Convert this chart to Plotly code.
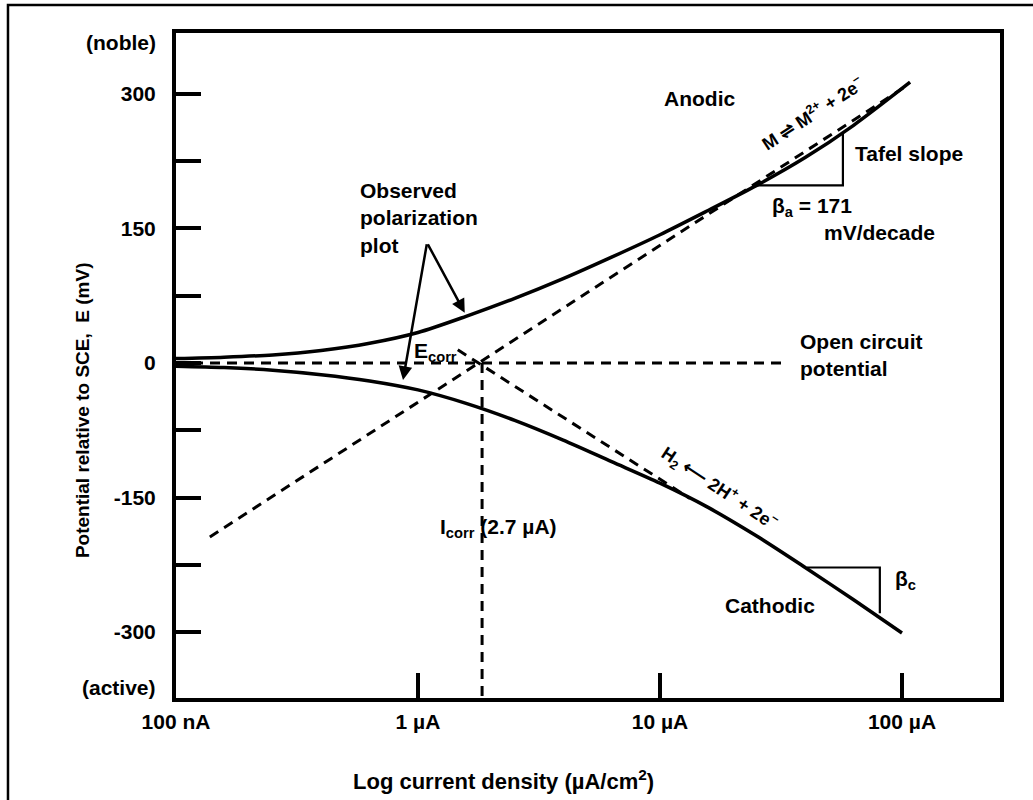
import numpy as np
import plotly.graph_objects as go

# ---------------- data (current density in µA/cm², potential in mV) ----------------
anodic_I = [0.1, 0.158, 0.251, 0.398, 0.631, 1, 1.58, 2.51, 3.98, 6.31, 10, 15.8, 25.1, 39.8, 63.1, 108]
anodic_E = [5, 6.5, 9, 14, 22, 34, 52, 72, 94, 118, 143, 170, 198, 229, 265, 313]

cathodic_I = [0.1, 0.158, 0.251, 0.398, 0.631, 1, 1.58, 2.51, 3.98, 6.31, 10, 15.8, 25.1, 39.8, 63.1, 100]
cathodic_E = [-3.5, -5, -8, -13, -20, -30, -45, -64, -86, -110, -134, -161, -193, -228, -264, -301]

anodic_tafel_I = [0.138, 103]
anodic_tafel_E = [-194, 308]

cathodic_tafel_I = [1.46, 13.3]
cathodic_tafel_E = [14.7, -151]

ocp_I = [0.1, 32.9]
ocp_E = [0, 0]

icorr_I = [1.84, 1.84]
icorr_E = [0, -373.5]

anodic_tri_I = [25.2, 57, 57]
anodic_tri_E = [198, 198, 257]

cathodic_tri_I = [40.5, 81, 81]
cathodic_tri_E = [-228, -228, -279]

x_tickvals = [0.1, 1, 10, 100]
x_ticktext = ["100 nA", "1 µA", "10 µA", "100 µA"]
y_tickvals = [-300, -225, -150, -75, 0, 75, 150, 225, 300]
y_ticktext = ["-300", "", "-150", "", "0", "", "150", "", "300"]

x_range_log = [-1, 2.405]
y_range = [-373.5, 367.9]

# ---------------- figure ----------------
BLACK = "#000000"
FONT = "Liberation Sans"
solid = dict(color=BLACK, width=3.5)
dashed = dict(color=BLACK, width=3, dash="10px,7px")
thin = dict(color=BLACK, width=2.2)


def f(size=21):
    return dict(family=FONT, size=size, color=BLACK, weight="bold")


fig = go.Figure()
fig.add_trace(go.Scatter(x=ocp_I, y=ocp_E, mode="lines", line=dashed, hoverinfo="skip"))
fig.add_trace(go.Scatter(x=icorr_I, y=icorr_E, mode="lines", line=dashed, hoverinfo="skip"))
fig.add_trace(go.Scatter(x=anodic_tafel_I, y=anodic_tafel_E, mode="lines", line=dashed, hoverinfo="skip"))
fig.add_trace(go.Scatter(x=cathodic_tafel_I, y=cathodic_tafel_E, mode="lines", line=dashed, hoverinfo="skip"))
fig.add_trace(go.Scatter(x=anodic_I, y=anodic_E, mode="lines", line=dict(shape="spline", smoothing=0.8, **solid)))
fig.add_trace(go.Scatter(x=cathodic_I, y=cathodic_E, mode="lines", line=dict(shape="spline", smoothing=0.8, **solid)))
fig.add_trace(go.Scatter(x=anodic_tri_I, y=anodic_tri_E, mode="lines", line=thin, hoverinfo="skip"))
fig.add_trace(go.Scatter(x=cathodic_tri_I, y=cathodic_tri_E, mode="lines", line=thin, hoverinfo="skip"))

L = np.log10  # annotations on a log axis are placed in log10 units


def label(text, I, E, size=21, xanchor="center", align="center", angle=0):
    fig.add_annotation(x=float(L(I)), y=E, xref="x", yref="y", text=text, showarrow=False,
                       xanchor=xanchor, yanchor="middle", align=align, textangle=angle,
                       font=f(size))


label("Anodic", 14.5, 295)
label("Cathodic", 28.5, -270)
label("Tafel slope", 62.8, 234, xanchor="left")
label("β<sub>a</sub> = 171", 42.5, 174)
label("mV/decade", 81.1, 146)
label("β<sub>c</sub>", 91.8, -242, xanchor="left")
label("Observed<br>polarization<br>plot", 0.565, 162, xanchor="left", align="left")
label("E<sub>corr</sub>", 0.944, 12, xanchor="left")
label("Open circuit<br>potential", 37.2, 9, xanchor="left", align="left")
label("I<sub>corr</sub> (2.7 µA)", 1.21, -184, xanchor="left")
label("M ⇌ M<sup>2+</sup> + 2e<sup>−</sup>", 42.5, 278, size=18, angle=-33)
label("H<sub>2</sub> ⟵ 2H<sup>+</sup> + 2e<sup>−</sup>", 17.6, -140, size=18, angle=33.5)

# arrows from "Observed polarization plot"
apex_I, apex_E = 1.09, 134
for head_I, head_E in [(0.867, -19), (1.56, 56)]:
    fig.add_annotation(x=float(L(head_I)), y=head_E, ax=float(L(apex_I)), ay=apex_E,
                       xref="x", yref="y", axref="x", ayref="y", text="", showarrow=True,
                       arrowhead=2, arrowsize=1.1, arrowwidth=2.5, arrowcolor=BLACK)

# (noble) / (active) labels and axis titles
fig.add_annotation(x=-0.022, y=357, xref="paper", yref="y", text="(noble)", showarrow=False,
                   xanchor="right", yanchor="middle", font=f(21))
fig.add_annotation(x=-0.022, y=-362, xref="paper", yref="y", text="(active)", showarrow=False,
                   xanchor="right", yanchor="middle", font=f(21))
fig.add_annotation(x=0.397, y=-0.123, xref="paper", yref="paper", text="Log current density (µA/cm<sup>2</sup>)",
                   showarrow=False, xanchor="center", yanchor="middle", font=f(22))
fig.add_annotation(x=-0.114, y=0.433, xref="paper", yref="paper", text="Potential relative to SCE,  E (mV)",
                   showarrow=False, xanchor="center", yanchor="middle", textangle=-90, font=f(19))

# outer frame (only left and top edges fall inside the picture)
fig.add_shape(type="rect", xref="paper", yref="paper", x0=-0.2039, x1=1.1, y0=-0.35, y1=1.0421,
              line=dict(color=BLACK, width=2.5), fillcolor="rgba(0,0,0,0)", layer="above")

axis_common = dict(showgrid=False, zeroline=False, showline=True, linewidth=4, linecolor=BLACK,
                   mirror=True, ticks="inside", ticklen=25, tickwidth=3.5, tickcolor=BLACK,
                   tickfont=f(21))
fig.update_xaxes(type="log", range=x_range_log, tickmode="array", tickvals=x_tickvals,
                 ticktext=x_ticktext, ticklabelstandoff=2, **axis_common)
fig.update_yaxes(range=y_range, tickmode="array", tickvals=y_tickvals, ticktext=y_ticktext,
                 ticklabelstandoff=12, **axis_common)

fig.update_layout(width=1033, height=800, margin=dict(l=176, r=33, t=33, b=102),
                  paper_bgcolor="white", plot_bgcolor="white", showlegend=False,
                  font=f(21))

fig.write_html("out.html", config={"displayModeBar": False},
               post_script="document.body.style.margin='0';")
